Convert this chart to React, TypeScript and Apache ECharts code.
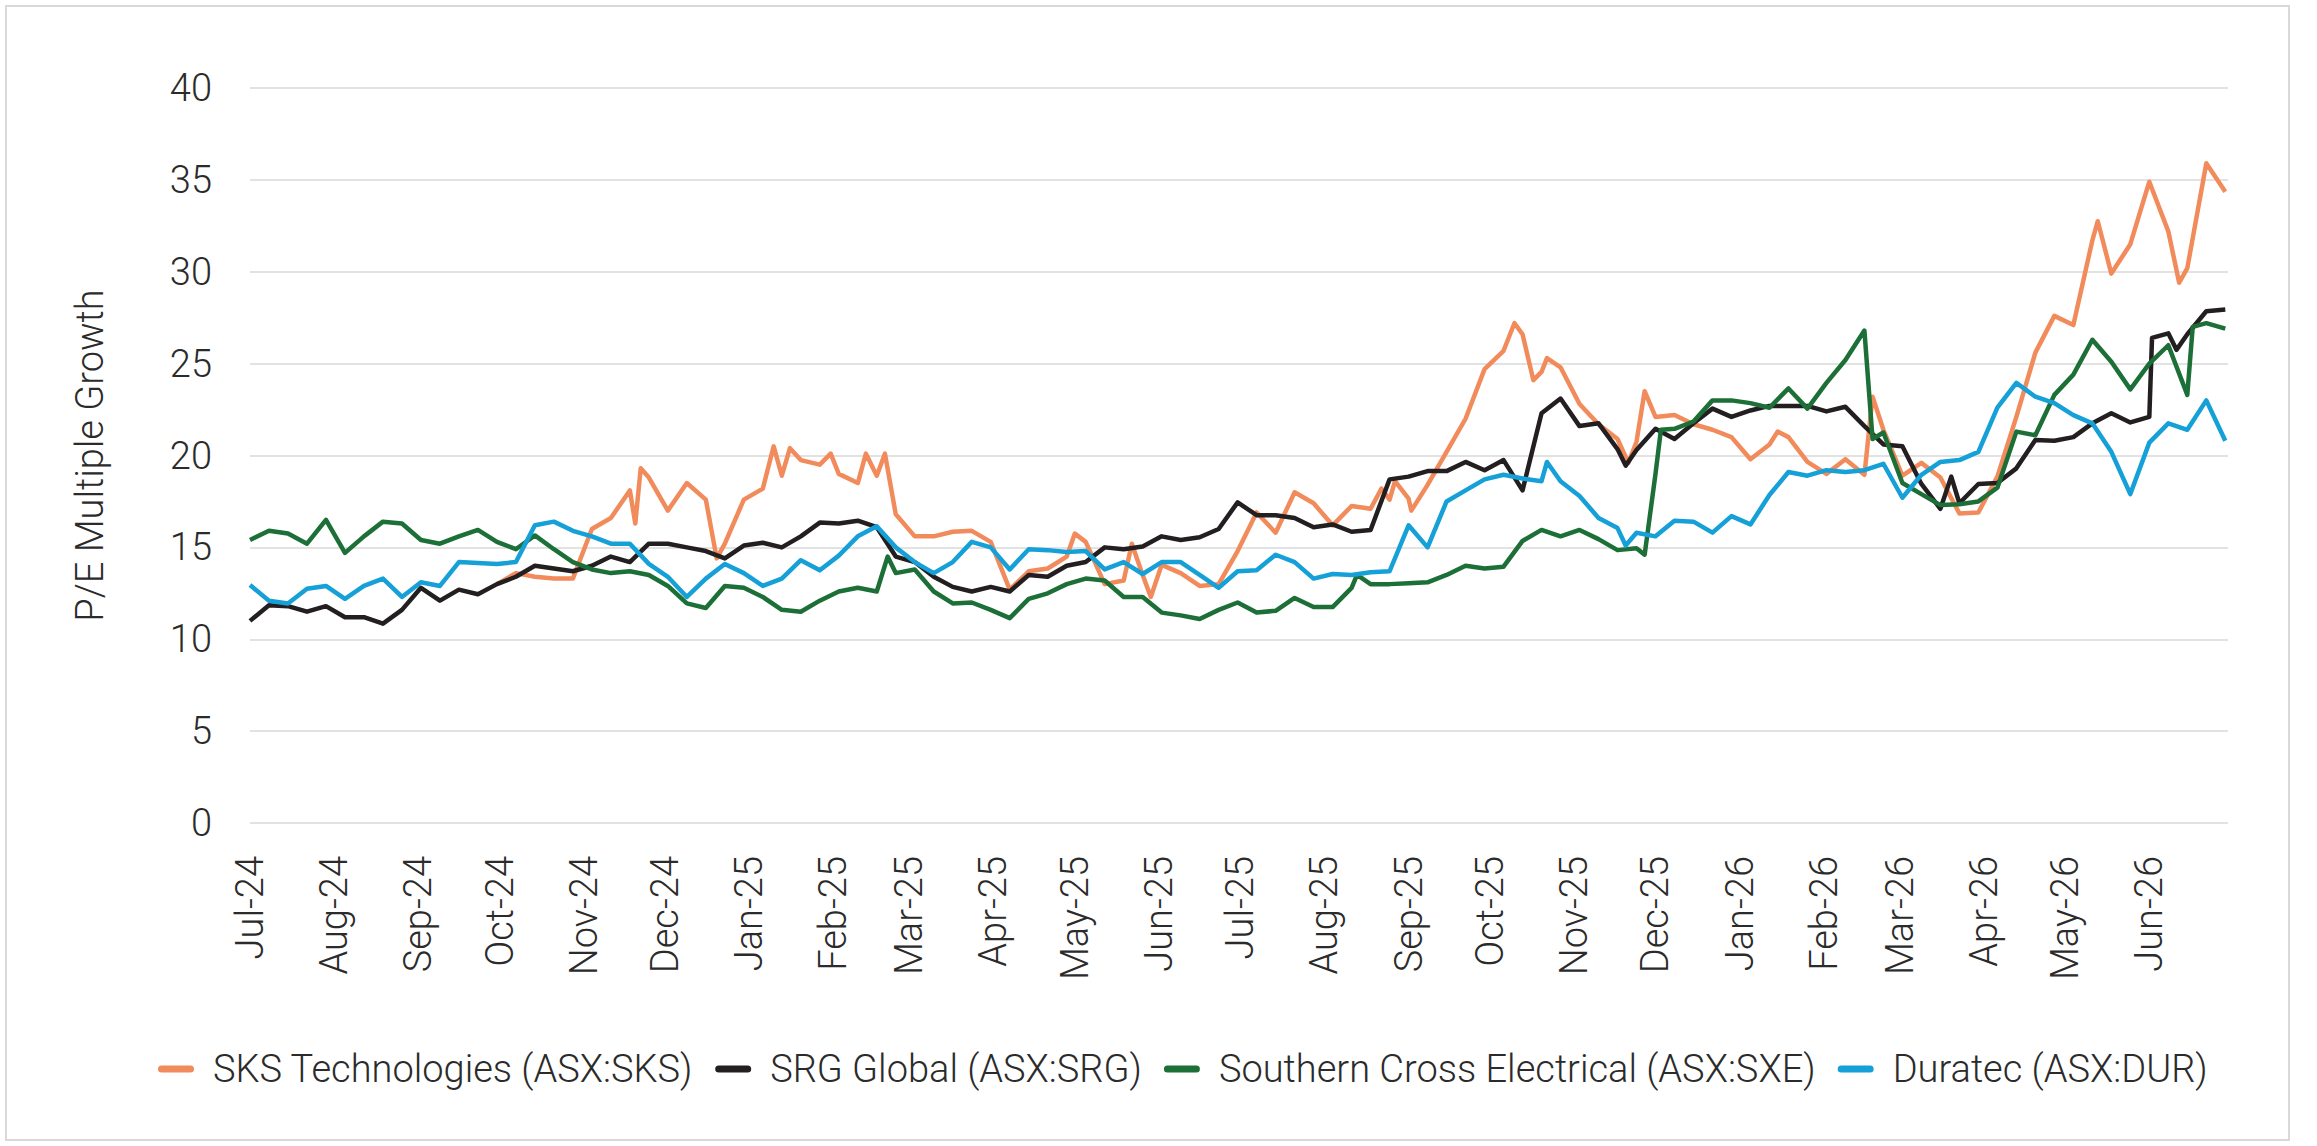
import React, { useEffect, useRef } from "react";
import * as echarts from "echarts";

const dates = [
  "2024-07-01","2024-07-08","2024-07-15","2024-07-22","2024-07-29",
  "2024-08-05","2024-08-12","2024-08-19","2024-08-26",
  "2024-09-02","2024-09-09","2024-09-16","2024-09-23","2024-09-30",
  "2024-10-07","2024-10-14","2024-10-21","2024-10-28",
  "2024-11-04","2024-11-11","2024-11-18","2024-11-25",
  "2024-12-02","2024-12-09","2024-12-16","2024-12-23","2024-12-30",
  "2025-01-06","2025-01-13","2025-01-20","2025-01-27",
  "2025-02-03","2025-02-10","2025-02-17","2025-02-24",
  "2025-03-03","2025-03-10","2025-03-17","2025-03-24","2025-03-31",
  "2025-04-07","2025-04-14","2025-04-21","2025-04-28",
  "2025-05-05","2025-05-12","2025-05-19","2025-05-26",
  "2025-06-02","2025-06-09","2025-06-16","2025-06-23","2025-06-30",
  "2025-07-07","2025-07-14","2025-07-21","2025-07-28",
  "2025-08-04","2025-08-11","2025-08-18","2025-08-25",
  "2025-09-01","2025-09-08","2025-09-15","2025-09-22","2025-09-29",
  "2025-10-06","2025-10-13","2025-10-20","2025-10-27",
  "2025-11-03","2025-11-10","2025-11-17","2025-11-24",
  "2025-12-01","2025-12-08","2025-12-15","2025-12-22","2025-12-29",
  "2026-01-05","2026-01-12","2026-01-19","2026-01-26",
  "2026-02-02","2026-02-09","2026-02-16","2026-02-23",
  "2026-03-02","2026-03-09","2026-03-16","2026-03-23","2026-03-30",
  "2026-04-06","2026-04-13","2026-04-20","2026-04-27",
  "2026-05-04","2026-05-11","2026-05-18","2026-05-25",
  "2026-06-01","2026-06-08","2026-06-15","2026-06-22","2026-06-29",
];

const sks = [
  null, null, null, null, null, null, null, null, null, null, null, null, null,
  13.0, 13.6, 13.4, 13.3, 13.3, 16.0, 16.6, 18.1, 18.8, 17.0, 18.5, 17.6, 15.2,
  17.6, 18.2, 18.9, 19.75, 19.5, 19.0, 18.5, 18.9, 16.8, 15.6, 15.6, 15.85, 15.9,
  15.3, 12.7, 13.7, 13.85, 14.5, 15.3, 13.0, 13.2, 13.5, 14.05, 13.6, 12.9, 13.0,
  14.8, 16.9, 15.8, 18.0, 17.4, 16.2, 17.25, 17.1, 17.6, 17.65, 18.4, 20.2, 22.0,
  24.7, 25.7, 26.6, 24.55, 24.8, 22.8, 21.7, 20.9, 20.75, 22.1, 22.2, 21.7, 21.4,
  21.0, 19.8, 20.6, 21.0, 19.65, 19.0, 19.8, 18.95, 21.4, 18.9, 19.6, 18.8, 16.85,
  16.9, 18.85, 22.1, 25.6, 27.6, 27.1, 31.7, 29.9, 31.5, 34.9, 32.2, 30.2, 35.9,
  34.35,
];
const sksExtra = [
  ["2024-11-20", 16.3], ["2024-11-22", 19.3], ["2024-12-20", 14.4],
  ["2025-01-10", 20.5], ["2025-01-16", 20.4], ["2025-01-31", 20.1],
  ["2025-02-13", 20.1], ["2025-02-20", 20.1], ["2025-05-01", 15.75],
  ["2025-05-22", 15.2], ["2025-05-29", 12.3], ["2025-08-22", 18.2],
  ["2025-08-27", 18.6], ["2025-09-02", 17.0], ["2025-10-10", 27.2],
  ["2025-10-17", 24.1], ["2025-10-22", 25.3], ["2025-11-21", 19.6],
  ["2025-11-27", 23.5], ["2026-01-15", 21.3], ["2026-02-19", 23.2],
  ["2026-05-13", 32.75], ["2026-06-12", 29.4],
];

const srg = [
  11.0, 11.85, 11.8, 11.5, 11.8, 11.2, 11.2, 10.85, 11.6, 12.8, 12.1, 12.7, 12.45,
  13.0, 13.4, 14.0, 13.85, 13.7, 14.0, 14.5, 14.2, 15.2, 15.2, 15.0, 14.8, 14.4,
  15.1, 15.25, 15.0, 15.6, 16.35, 16.3, 16.45, 16.1, 14.5, 14.2, 13.4, 12.85, 12.6,
  12.85, 12.6, 13.5, 13.4, 14.0, 14.2, 15.0, 14.9, 15.05, 15.6, 15.4, 15.55, 16.0,
  17.45, 16.75, 16.75, 16.6, 16.1, 16.25, 15.85, 15.95, 18.7, 18.85, 19.15, 19.15,
  19.65, 19.2, 19.75, 18.1, 22.3, 23.1, 21.6, 21.75, 20.35, 20.3, 21.45, 20.9,
  21.75, 22.55, 22.1, 22.45, 22.7, 22.7, 22.7, 22.4, 22.65, 21.6, 20.6, 20.5,
  18.45, 17.1, 17.4, 18.45, 18.5, 19.3, 20.85, 20.8, 21.0, 21.75, 22.3, 21.8,
  22.1, 26.65, 26.6, 27.85, 27.95,
];
const srgExtra = [
  ["2025-11-20", 19.45], ["2026-03-20", 18.85], ["2026-06-02", 26.4],
  ["2026-06-11", 25.75],
];

const sxe = [
  15.4, 15.9, 15.75, 15.2, 16.5, 14.7, 15.6, 16.4, 16.3, 15.4, 15.2, 15.6, 15.95,
  15.3, 14.9, 15.65, 14.9, 14.2, 13.8, 13.6, 13.7, 13.5, 12.9, 11.95, 11.7, 12.9,
  12.8, 12.3, 11.6, 11.5, 12.1, 12.6, 12.8, 12.6, 13.6, 13.8, 12.6, 11.95, 12.0,
  11.6, 11.15, 12.2, 12.5, 13.0, 13.3, 13.2, 12.3, 12.3, 11.45, 11.3, 11.1, 11.6,
  12.0, 11.45, 11.55, 12.25, 11.75, 11.75, 12.8, 13.0, 13.0, 13.05, 13.1, 13.5,
  14.0, 13.85, 13.95, 15.35, 15.95, 15.6, 15.95, 15.45, 14.85, 14.95, 19.0, 21.45,
  21.85, 23.0, 23.0, 22.85, 22.6, 23.65, 22.55, 23.95, 25.2, 26.8, 21.25, 18.5,
  17.9, 17.3, 17.35, 17.5, 18.25, 21.3, 21.1, 23.3, 24.4, 26.3, 25.1, 23.6, 25.0,
  26.0, 23.3, 27.2, 26.9,
];
const sxeExtra = [
  ["2025-02-21", 14.5], ["2025-08-13", 13.5], ["2025-11-27", 14.6],
  ["2025-12-03", 21.4], ["2026-02-19", 20.9], ["2026-06-17", 27.0],
];

const dur = [
  12.95, 12.1, 11.95, 12.75, 12.9, 12.2, 12.9, 13.3, 12.3, 13.1, 12.9, 14.2, 14.15,
  14.1, 14.2, 16.2, 16.4, 15.9, 15.6, 15.2, 15.2, 14.1, 13.4, 12.3, 13.3, 14.1,
  13.6, 12.9, 13.3, 14.3, 13.75, 14.55, 15.6, 16.15, 15.0, 14.2, 13.6, 14.2, 15.3,
  15.0, 13.8, 14.9, 14.85, 14.75, 14.8, 13.8, 14.2, 13.55, 14.2, 14.2, 13.5, 12.8,
  13.7, 13.75, 14.6, 14.2, 13.3, 13.55, 13.5, 13.65, 13.7, 16.2, 15.0, 17.5, 18.1,
  18.7, 18.95, 18.75, 18.6, 18.6, 17.8, 16.6, 16.05, 15.8, 15.6, 16.45, 16.4, 15.8,
  16.7, 16.25, 17.85, 19.1, 18.9, 19.2, 19.1, 19.2, 19.55, 17.7, 18.95, 19.65,
  19.75, 20.2, 22.6, 23.95, 23.2, 22.85, 22.2, 21.75, 20.2, 17.9, 20.7, 21.75,
  21.4, 23.0, 20.8,
];
const durExtra = [
  ["2025-10-22", 19.65], ["2025-11-20", 15.1],
];

const seriesNames = [
  "SKS Technologies (ASX:SKS)",
  "SRG Global (ASX:SRG)",
  "Southern Cross Electrical (ASX:SXE)",
  "Duratec (ASX:DUR)",
];
const seriesColors = ["#F28B5B", "#231F20", "#1D6F38", "#15A0D7"];
const monthNames = ["Jan","Feb","Mar","Apr","May","Jun","Jul","Aug","Sep","Oct","Nov","Dec"];
const yAxisTitle = "P/E Multiple Growth";

const FONT = "Roboto";
const TEXT = "#2b2b2b";

function buildData(vals: (number | null)[], extra: (string | number)[][]) {
  const pts: any[] = dates.map((d, j) => [d, vals[j]]);
  extra.forEach((e) => pts.push([e[0], e[1]]));
  pts.sort((a, b) => (a[0] < b[0] ? -1 : a[0] > b[0] ? 1 : 0));
  return pts;
}

export default function App() {
  const ref = useRef<HTMLDivElement>(null);
  useEffect(() => {
    if (!ref.current) return;
    const chart = echarts.init(ref.current, undefined, { renderer: "svg" });
    const all = [
      buildData(sks, sksExtra),
      buildData(srg, srgExtra),
      buildData(sxe, sxeExtra),
      buildData(dur, durExtra),
    ];
    chart.setOption({
      animation: false,
      backgroundColor: "#ffffff",
      textStyle: { fontFamily: FONT },
      graphic: [
        {
          type: "rect",
          shape: { x: 6, y: 6, width: 2283, height: 1134 },
          style: { fill: "none", stroke: "#d9d9d9", lineWidth: 2 },
          silent: true,
          z: -10,
        },
      ],
      grid: { left: 250, right: 89, top: 88, bottom: 323, containLabel: false },
      legend: {
        left: 153,
        top: 1045,
        itemWidth: 36,
        itemHeight: 7,
        itemGap: 22,
        icon: "path://M3.5,0H32.5A3.5,3.5,0,0,1,32.5,7H3.5A3.5,3.5,0,0,1,3.5,0Z",
        textStyle: {
          fontFamily: FONT,
          fontWeight: 300,
          fontSize: 38,
          color: TEXT,
          padding: [0, 0, 0, 14],
        },
        data: seriesNames,
      },
      xAxis: {
        type: "time",
        min: "2024-07-01",
        max: "2026-06-30",
        minInterval: 28 * 86400000,
        maxInterval: 31 * 86400000,
        axisLine: { show: false },
        axisTick: { show: false },
        splitLine: { show: false },
        axisLabel: {
          rotate: 90,
          margin: 33,
          fontFamily: FONT,
          fontWeight: 300,
          fontSize: 38,
          color: TEXT,
          showMaxLabel: false,
          hideOverlap: false,
          formatter: (v: number) => {
            const d = new Date(v);
            return monthNames[d.getMonth()] + "-" + String(d.getFullYear()).slice(2);
          },
        },
      },
      yAxis: {
        type: "value",
        min: 0,
        max: 40,
        interval: 5,
        name: yAxisTitle,
        nameLocation: "middle",
        nameRotate: 90,
        nameGap: 141,
        nameTextStyle: { fontFamily: FONT, fontWeight: 300, fontSize: 38, color: TEXT },
        axisLine: { show: false },
        axisTick: { show: false },
        axisLabel: { margin: 38, fontFamily: FONT, fontWeight: 300, fontSize: 38, color: TEXT },
        splitLine: { lineStyle: { color: "#d9d9d9", width: 1.5 } },
      },
      series: all.map((pts, i) => ({
        name: seriesNames[i],
        type: "line",
        showSymbol: false,
        symbol: "none",
        connectNulls: false,
        color: seriesColors[i],
        lineStyle: { width: 4.5, color: seriesColors[i], join: "round" },
        data: pts,
      })),
    });
    return () => chart.dispose();
  }, []);
  return (
    <div
      ref={ref}
      style={{ position: "fixed", left: 0, top: 0, width: 2317, height: 1146, background: "#fff" }}
    />
  );
}
